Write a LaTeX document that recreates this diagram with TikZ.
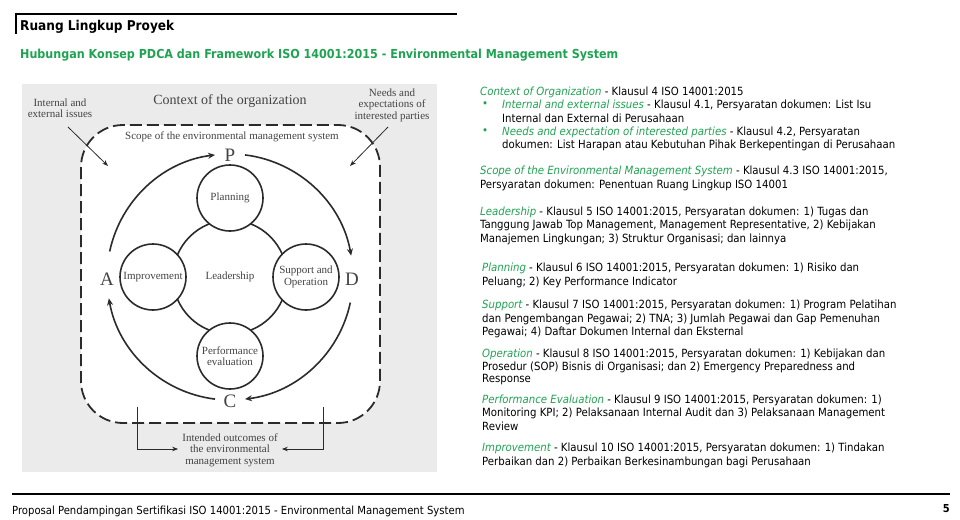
\documentclass[tikz,border=0pt]{standalone}
\usepackage{fontspec}
\setmainfont{DejaVu Sans Condensed}
\newfontfamily\dgm{Liberation Serif}
\usetikzlibrary{arrows.meta,calc}
\definecolor{grn}{HTML}{1FA352}
\definecolor{dg}{HTML}{2B2B2B}
\definecolor{dt}{HTML}{444444}
\begin{document}
\begin{tikzpicture}[x=1pt,y=-1pt,
  tl/.style={anchor=west,inner sep=0pt,font=\fontsize{11.3}{12}\selectfont},
  dl/.style={font=\dgm\fontsize{11}{11.5}\selectfont,text=dt,align=center,inner sep=0pt},
  sm/.style={draw=dg,line width=1.6pt,circle,minimum size=66pt,fill=white,inner sep=0pt},
  arr/.style={-{Stealth[length=7pt,width=6pt]},line width=1.6pt,draw=dg},
  thin/.style={-{Stealth[length=6pt,width=4.5pt]},line width=0.8pt,draw=dg}]
\useasboundingbox (0,0) rectangle (960,519);
% header
\draw[line width=1.8pt] (16,34) -- (16,14) -- (457,14);
\node[anchor=west,inner sep=0pt,font=\bfseries\fontsize{13.5}{15}\selectfont] (title) at (20,27) {Ruang Lingkup Proyek};
\node[anchor=west,inner sep=0pt,font=\bfseries\fontsize{12.4}{14}\selectfont,text=grn] (sub) at (20,55) {Hubungan Konsep PDCA dan Framework ISO 14001:2015 - Environmental Management System};
% footer
\draw[line width=1.8pt] (12,494) -- (950,494);
\node[anchor=west,inner sep=0pt,font=\fontsize{11.2}{12}\selectfont] (foot) at (12,511) {Proposal Pendampingan Sertifikasi ISO 14001:2015 - Environmental Management System};
\node[anchor=east,inner sep=0pt,font=\bfseries\fontsize{11}{12}\selectfont] (pg) at (950,509) {5};
% diagram
\fill[gray!16] (22,84) rectangle (437,472);
\draw[dg,line width=1.8pt,dash pattern=on 12pt off 5pt,fill=white,rounded corners=42pt] (81,125) rectangle (380,423);
\node[dl,font=\dgm\fontsize{14}{14}\selectfont] (ctx) at (230,101) {Context of the organization};
\node[dl] (iei) at (60,108) {Internal and\\external issues};
\node[dl] (nee) at (392,105) {Needs and\\expectations of\\interested parties};
\node[dl] (scope) at (232,137) {Scope of the environmental management system};
\coordinate (iet) at (68,127); \coordinate (ieh) at (108,166);
\coordinate (net) at (388,127); \coordinate (neh) at (350,166);
\draw[thin] (iet) -- (ieh);
\draw[thin] (net) -- (neh);
\coordinate (c) at (230,277);
\draw[dg,line width=1.6pt] (c) circle[radius=57];
\node[dl] (lead) at (c) {Leadership};
\node[sm] (plan) at (230,198) {};
\node[dl] at (plan) {Planning};
\node[sm] (sup) at (306,277) {};
\node[dl] at (sup) {Support and\\Operation};
\node[sm] (perf) at (230,356) {};
\node[dl] at (perf) {Performance\\evaluation};
\node[sm] (imp) at (153,277) {};
\node[dl] at (imp) {Improvement};
\node[dl,font=\dgm\fontsize{19}{19}\selectfont] (P) at (230,155) {P};
\node[dl,font=\dgm\fontsize{19}{19}\selectfont] (D) at (352,279) {D};
\node[dl,font=\dgm\fontsize{19}{19}\selectfont] (C) at (230,401) {C};
\node[dl,font=\dgm\fontsize{19}{19}\selectfont] (A) at (107,279) {A};
\draw[arr] ($(c)+(192:123)$) arc[start angle=192,end angle=263,radius=123];
\draw[arr] ($(c)+(277:123)$) arc[start angle=277,end angle=350,radius=123];
\draw[arr] ($(c)+(12:123)$) arc[start angle=12,end angle=83,radius=123];
\draw[arr] ($(c)+(97:123)$) arc[start angle=97,end angle=170,radius=123];
\node[dl] (out) at (230,450) {Intended outcomes of\\the environmental\\management system};
\coordinate (l0) at (137,407); \coordinate (l1) at (137,449);
\coordinate (r0) at (323,407); \coordinate (r1) at (323,449);
\draw[thin] (l0) -- (l1) -- ([xshift=-4pt]out.west |- l1);
\draw[thin] (r0) -- (r1) -- ([xshift=4pt]out.east |- r1);
% right text
\node[tl] at (480,92) {\textcolor{grn}{\itshape Context of Organization} - Klausul 4 ISO 14001:2015};
\node[tl] at (482,105) {\textcolor{grn}{•}};
\node[tl] at (502,105) {\textcolor{grn}{\itshape Internal and external issues} - Klausul 4.1, Persyaratan dokumen: List Isu};
\node[tl] at (502,118) {Internal dan External di Perusahaan};
\node[tl] at (482,132) {\textcolor{grn}{•}};
\node[tl] at (502,132) {\textcolor{grn}{\itshape Needs and expectation of interested parties} - Klausul 4.2, Persyaratan};
\node[tl] at (502,145) {dokumen: List Harapan atau Kebutuhan Pihak Berkepentingan di Perusahaan};
\node[tl] at (480,171) {\textcolor{grn}{\itshape Scope of the Environmental Management System} - Klausul 4.3 ISO 14001:2015,};
\node[tl] at (480,185) {Persyaratan dokumen: Penentuan Ruang Lingkup ISO 14001};
\node[tl] at (480,212) {\textcolor{grn}{\itshape Leadership} - Klausul 5 ISO 14001:2015, Persyaratan dokumen: 1) Tugas dan};
\node[tl] at (480,225) {Tanggung Jawab Top Management, Management Representative, 2) Kebijakan};
\node[tl] at (480,239) {Manajemen Lingkungan; 3) Struktur Organisasi; dan lainnya};
\node[tl] at (482,268) {\textcolor{grn}{\itshape Planning} - Klausul 6 ISO 14001:2015, Persyaratan dokumen: 1) Risiko dan};
\node[tl] at (482,282) {Peluang; 2) Key Performance Indicator};
\node[tl] at (482,305) {\textcolor{grn}{\itshape Support} - Klausul 7 ISO 14001:2015, Persyaratan dokumen: 1) Program Pelatihan};
\node[tl] at (482,319) {dan Pengembangan Pegawai; 2) TNA; 3) Jumlah Pegawai dan Gap Pemenuhan};
\node[tl] at (482,332) {Pegawai; 4) Daftar Dokumen Internal dan Eksternal};
\node[tl] at (482,354) {\textcolor{grn}{\itshape Operation} - Klausul 8 ISO 14001:2015, Persyaratan dokumen: 1) Kebijakan dan};
\node[tl] at (482,367) {Prosedur (SOP) Bisnis di Organisasi; dan 2) Emergency Preparedness and};
\node[tl] at (482,380) {Response};
\node[tl] at (482,400) {\textcolor{grn}{\itshape Performance Evaluation} - Klausul 9 ISO 14001:2015, Persyaratan dokumen: 1)};
\node[tl] at (482,413) {Monitoring KPI; 2) Pelaksanaan Internal Audit dan 3) Pelaksanaan Management};
\node[tl] at (482,426) {Review};
\node[tl] at (482,448) {\textcolor{grn}{\itshape Improvement} - Klausul 10 ISO 14001:2015, Persyaratan dokumen: 1) Tindakan};
\node[tl] at (482,462) {Perbaikan dan 2) Perbaikan Berkesinambungan bagi Perusahaan};
\end{tikzpicture}
\end{document}
